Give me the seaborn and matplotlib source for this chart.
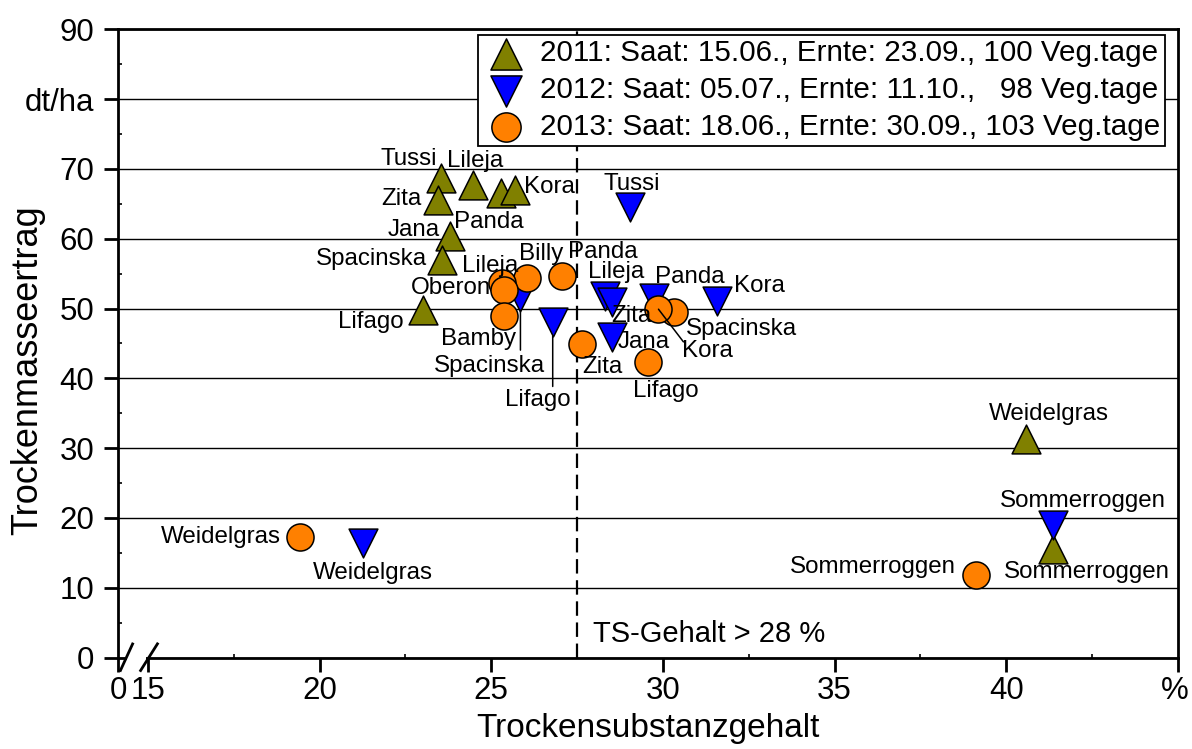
import matplotlib
matplotlib.use("Agg")
import matplotlib.pyplot as plt
from matplotlib.patches import Rectangle
from matplotlib.ticker import MultipleLocator
from matplotlib.transforms import ScaledTranslation
import seaborn as sns
import pandas as pd

# ---------------- data ----------------
names_2011 = ["Tussi", "Zita", "Lileja", "Panda", "Kora", "Jana", "Spacinska", "Lifago",
              "Weidelgras", "Sommerroggen"]
ts_2011 = [23.53, 23.46, 24.48, 25.27, 25.69, 23.79, 23.56, 23.00, 40.57, 41.36]
dm_2011 = [68.7, 65.5, 67.7, 66.5, 67.0, 60.4, 56.9, 49.8, 31.3, 15.6]

names_2012 = ["Tussi", "Lileja", "Zita", "Panda", "Kora", "Jana", "Spacinska", "Lifago",
              "Weidelgras", "Sommerroggen"]
ts_2012 = [29.03, 28.30, 28.51, 29.73, 31.58, 28.51, 25.85, 26.79, 21.27, 41.36]
dm_2012 = [64.5, 51.8, 50.9, 51.5, 51.1, 45.9, 51.7, 48.1, 16.4, 19.05]

names_2013 = ["Billy", "Panda", "Lileja", "Oberon", "Bamby", "Zita", "Spacinska", "Kora",
              "Lifago", "Weidelgras", "Sommerroggen"]
ts_2013 = [26.03, 27.06, 25.32, 25.37, 25.36, 27.64, 30.31, 29.87, 29.56, 19.43, 39.11]
dm_2013 = [54.4, 54.6, 53.7, 52.6, 48.9, 44.9, 49.5, 49.9, 42.4, 17.3, 11.8]

legend_2011 = "2011: Saat: 15.06., Ernte: 23.09., 100 Veg.tage"
legend_2012 = "2012: Saat: 05.07., Ernte: 11.10.,   98 Veg.tage"
legend_2013 = "2013: Saat: 18.06., Ernte: 30.09., 103 Veg.tage"

x_ticks = [14.13, 15, 20, 25, 30, 35, 40, 45]
x_tick_labels = ["0", "15", "20", "25", "30", "35", "40", "%"]
y_ticks = [0, 10, 20, 30, 40, 50, 60, 70, 80, 90]
y_tick_labels = ["0", "10", "20", "30", "40", "50", "60", "70", "dt/ha", "90"]
threshold = 27.5
threshold_text = "TS-Gehalt > 28 %"
x_label = "Trockensubstanzgehalt"
y_label = "Trockenmasseertrag"

# ---------------- layout (label offsets in pixels: dx right, dy up to baseline) ----------------
PX = 72 / 100.0
offs_2011 = {"Tussi": (-31.7, 13), "Lileja": (1.7, 18.3), "Zita": (-36.6, -5),
             "Panda": (-11.7, -34.3), "Kora": (34, -3.3), "Jana": (-35.7, 0),
             "Spacinska": (-70, -4.5), "Lifago": (-51.6, -18.3),
             "Weidelgras": (23, 18.7), "Sommerroggen": (33.5, -29.6)}
offs_2012 = {"Tussi": (2.3, 17), "Lileja": (11.5, 17.7), "Zita": (19.5, -19.7),
             "Panda": (35.8, 14.7), "Kora": (42, 9.3), "Jana": (31.7, -11.3),
             "Spacinska": (-31.2, -75.2), "Lifago": (-15.2, -84.7),
             "Weidelgras": (9.3, -36.3), "Sommerroggen": (29.8, 17.2)}
offs_2013 = {"Billy": (14.3, 17.7), "Panda": (40.7, 18.4), "Lileja": (-12.5, 11),
             "Oberon": (-52.5, -3.3), "Bamby": (-25.5, -29), "Zita": (20.5, -28.7),
             "Spacinska": (67.5, -23.3), "Kora": (48.7, -48.3), "Lifago": (18.2, -35.6),
             "Weidelgras": (-79.4, -6.6), "Sommerroggen": (-103.3, 1.7)}
# leader lines: (name, end dx px, end dy px, shrink at marker px)
leaders_2012 = [("Spacinska", 0, -53.5, 13.5), ("Lifago", 0, -64.7, 14)]
leaders_2013 = [("Kora", 25, -32.7, 0)]

sns.set_theme(style="white")
plt.rcParams["font.family"] = ["Liberation Sans", "DejaVu Sans"]
plt.rcParams["text.color"] = "black"
plt.rcParams["axes.labelcolor"] = "black"

W, H = 1192, 749
fig = plt.figure(figsize=(W / 100, H / 100), dpi=100)
L, R, T, B = 118, 1178, 29.3, 657.5
ax = fig.add_axes([L / W, (H - B) / H, (R - L) / W, (B - T) / H])

series = [
    (names_2011, ts_2011, dm_2011, "^", "#808000", 430, legend_2011, offs_2011, []),
    (names_2012, ts_2012, dm_2012, "v", "#0000FF", 430, legend_2012, offs_2012, leaders_2012),
    (names_2013, ts_2013, dm_2013, "o", "#FF8000", 380, legend_2013, offs_2013, leaders_2013),
]

for i, (names, xs, ys, mk, col, size, lab, offs, leaders) in enumerate(series):
    df = pd.DataFrame({"ts": xs, "dm": ys, "name": names})
    sns.scatterplot(data=df, x="ts", y="dm", marker=mk, color=col, edgecolor="black",
                    linewidth=1.1, s=size, label=lab, zorder=3 + i * 0.1, ax=ax)
    for n, xv, yv in zip(names, xs, ys):
        dx, dy = offs[n]
        ax.annotate(n, xy=(xv, yv), xytext=(dx * PX, dy * PX), textcoords="offset points",
                    ha="center", va="baseline", fontsize=17.4, color="black", zorder=6)
    for n, ex, ey, shr in leaders:
        j = names.index(n)
        ax.annotate("", xy=(xs[j], ys[j]), xytext=(ex * PX, ey * PX), textcoords="offset points",
                    arrowprops=dict(arrowstyle="-", color="black", lw=1.1,
                                    shrinkA=0, shrinkB=shr * PX), zorder=6)

ax.axvline(threshold, color="black", lw=1.6, linestyle=(0, (6.5, 3)), zorder=2)
ax.text(threshold + 0.45, 2.2, threshold_text, fontsize=21, ha="left", va="baseline", zorder=6)

ax.set_xlim(x_ticks[0], x_ticks[-1])
ax.set_ylim(y_ticks[0], y_ticks[-1])
ax.set_xticks(x_ticks)
ax.set_xticklabels(x_tick_labels)
ax.set_yticks(y_ticks)
ax.set_yticklabels(y_tick_labels)
ax.xaxis.set_minor_locator(MultipleLocator(2.5))
ax.yaxis.set_minor_locator(MultipleLocator(5))

ax.set_axisbelow(True)
ax.yaxis.grid(True, color="black", linewidth=1.0)
ax.xaxis.grid(False)
for sp in ax.spines.values():
    sp.set_visible(True)
    sp.set_color("black")
    sp.set_linewidth(2.0)

ax.tick_params(axis="both", which="major", direction="out", length=10, width=2,
               color="black", labelsize=22.5, labelcolor="black")
ax.tick_params(axis="x", which="major", pad=3.5, bottom=True)
ax.tick_params(axis="y", which="major", pad=7, left=True)
ax.tick_params(axis="both", which="minor", direction="in", length=3, width=1.2,
               color="black", bottom=True, left=True)

# keep the "%" label inside the figure
last = ax.get_xticklabels()[-1]
last.set_transform(last.get_transform() + ScaledTranslation(-3 / 100, 0, fig.dpi_scale_trans))

ax.set_xlabel(x_label, fontsize=24, color="black", va="baseline")
ax.xaxis.set_label_coords(0.5, (B - 737) / (B - T))
ax.set_ylabel(y_label, fontsize=26, color="black", va="center", ha="center")
ax.yaxis.set_label_coords((28 - L) / (R - L), (B - 370) / (B - T))

# axis break marks
def px2x(px):
    return x_ticks[1] + (px - 148) * (x_ticks[-1] - x_ticks[1]) / (R - 148)

def py2y(py):
    return (B - py) * (y_ticks[-1] - y_ticks[0]) / (B - T)

ax.add_patch(Rectangle((px2x(127.5), py2y(663)), px2x(146) - px2x(127.5),
                       py2y(650) - py2y(663), facecolor="white", edgecolor="none",
                       clip_on=False, zorder=6))
ax.plot([px2x(120), px2x(133.3)], [py2y(671.7), py2y(642.7)], color="black", lw=2,
        clip_on=False, zorder=7, solid_capstyle="butt")
ax.plot([px2x(140), px2x(158.3)], [py2y(671.7), py2y(642.7)], color="black", lw=2,
        clip_on=False, zorder=7, solid_capstyle="butt")
ax.set_xlim(x_ticks[0], x_ticks[-1])
ax.set_ylim(y_ticks[0], y_ticks[-1])

leg = ax.legend(loc="upper right", bbox_to_anchor=((1165 - L) / (R - L), (B - 35) / (B - T)),
                fontsize=21.3, frameon=True, fancybox=False, framealpha=1, edgecolor="black",
                borderpad=0.15, labelspacing=0.3, handletextpad=0.35, handlelength=1.6,
                borderaxespad=0, markerscale=1.08)
leg.get_frame().set_linewidth(1.3)
for t in leg.get_texts():
    t.set_color("black")
leg.set_zorder(10)

fig.savefig("out.png", dpi=100)
